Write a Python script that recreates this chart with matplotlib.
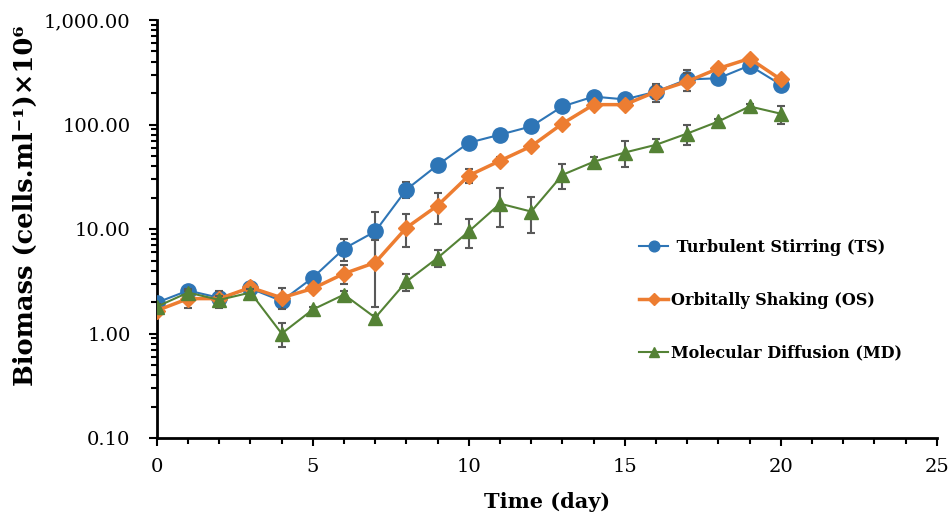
import numpy as np
import matplotlib
matplotlib.use("Agg")
import matplotlib.pyplot as plt
from matplotlib.ticker import FuncFormatter, LogLocator, MultipleLocator, NullFormatter

days = list(range(21))

# Turbulent Stirring (TS)
ts = [1.98, 2.58, 2.2, 2.7, 2.05, 3.43, 6.5, 9.5, 23.9, 41, 67, 80, 96,
      149, 185, 174, 206, 270, 277, 367, 241]
ts_err = [0.1, 0.2, 0.3, 0.2, 0.3, 0.2, 1.5, 5.0, 4.0, 3.0, 5.0, 5.0, 5.0,
          10, 15, 10, 40, 60, 15, 20, 15]

# Orbitally Shaking (OS)
os_ = [1.66, 2.16, 2.16, 2.76, 2.2, 2.7, 3.75, 4.78, 10.3, 16.8, 32.5, 45, 62,
       102, 155, 155, 206, 258, 344, 428, 270]
os_err = [0.1, 0.4, 0.4, 0.2, 0.5, 0.2, 0.8, 3.0, 3.5, 5.5, 5.0, 4.0, 4.0,
          5, 10, 10, 30, 50, 15, 20, 20]

# Molecular Diffusion (MD)
md = [1.81, 2.47, 2.1, 2.47, 1.0, 1.7, 2.36, 1.42, 3.15, 5.3, 9.5, 17.5, 14.7,
      33, 44, 54, 64, 82, 107, 149, 127]
md_err = [0.1, 0.2, 0.2, 0.2, 0.25, 0.1, 0.2, 0.1, 0.6, 1.0, 2.9, 7.0, 5.5,
          9, 5, 15, 9, 18, 5, 8, 25]

labels = [' Turbulent Stirring (TS)', 'Orbitally Shaking (OS)', 'Molecular Diffusion (MD)']

plt.rcParams['font.family'] = ['DejaVu Serif']

fig = plt.figure(figsize=(9.51, 5.13), dpi=100)
ax = fig.add_axes([0.165, 0.146, 0.82, 0.815])

ecol = '#595959'
c1 = ax.errorbar(days, ts, yerr=ts_err, color='#2E75B6', marker='o', ms=11, lw=1.5,
                 ecolor=ecol, elinewidth=1.5, capsize=3, capthick=1.5, zorder=3)
c2 = ax.errorbar(days, os_, yerr=os_err, color='#ED7D31', marker='D', ms=8.5, lw=2.5,
                 ecolor=ecol, elinewidth=1.5, capsize=3, capthick=1.5, zorder=4)
c3 = ax.errorbar(days, md, yerr=md_err, color='#548235', marker='^', ms=10, lw=1.5,
                 ecolor=ecol, elinewidth=1.5, capsize=3, capthick=1.5, zorder=5)

ax.set_yscale('log')
ax.set_ylim(0.1, 1000)
ax.set_xlim(0, 25)
ax.yaxis.set_major_formatter(FuncFormatter(lambda v, p: f"{v:,.2f}"))
ax.yaxis.set_minor_locator(LogLocator(base=10, subs=np.arange(2, 10)))
ax.yaxis.set_minor_formatter(NullFormatter())
ax.xaxis.set_major_locator(MultipleLocator(5))
ax.xaxis.set_minor_locator(MultipleLocator(1))

for s in ['top', 'right']:
    ax.spines[s].set_visible(False)
for s in ['left', 'bottom']:
    ax.spines[s].set_linewidth(2)
ax.tick_params(which='major', direction='out', length=6, width=1.5, labelsize=14)
ax.tick_params(which='minor', direction='out', length=4, width=1.5)
ax.tick_params(axis='x', pad=8)
ax.tick_params(axis='y', pad=13)

ax.set_xlabel('Time (day)', fontsize=15, fontweight='bold', labelpad=12)
ax.set_ylabel('Biomass (cells.ml⁻¹)×10⁶', fontsize=18.5, fontweight='bold')
ax.yaxis.set_label_coords(-0.153, 0.557)

ax.legend([c1[0], c2[0], c3[0]], labels, loc='center left', bbox_to_anchor=(0.6, 0.33),
          frameon=False, handlelength=1.8, handletextpad=0.2, labelspacing=2.25,
          prop={'weight': 'bold', 'size': 11.5}, markerscale=0.7)

fig.savefig('out.png', dpi=100)
